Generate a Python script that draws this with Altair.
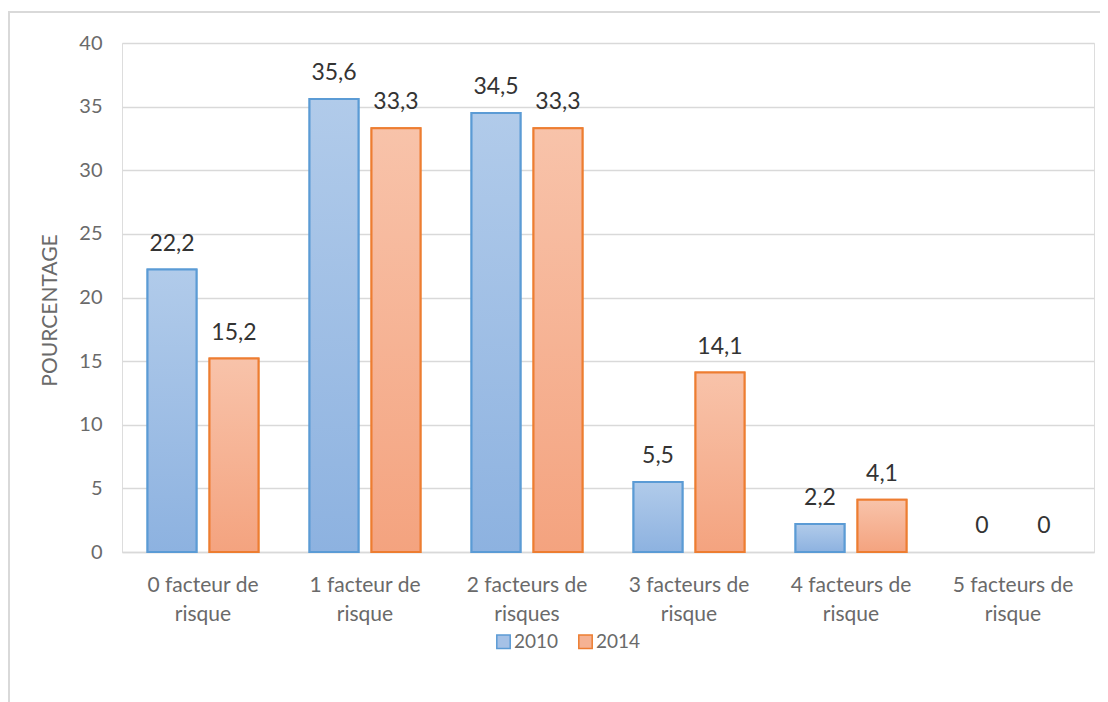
import altair as alt
import pandas as pd

categories = [
    "0 facteur de\nrisque",
    "1 facteur de\nrisque",
    "2 facteurs de\nrisques",
    "3 facteurs de\nrisque",
    "4 facteurs de\nrisque",
    "5 facteurs de\nrisque",
]
years = ["2010", "2014"]
values_2010 = [22.2, 35.6, 34.5, 5.5, 2.2, 0]
values_2014 = [15.2, 33.3, 33.3, 14.1, 4.1, 0]
y_ticks = [0, 5, 10, 15, 20, 25, 30, 35, 40]


def fmt(v):
    return "0" if v == 0 else str(v).replace(".", ",")


rows = []
for c, a, b in zip(categories, values_2010, values_2014):
    rows.append({"cat": c, "year": "2010", "value": a, "label": fmt(a)})
    rows.append({"cat": c, "year": "2014", "value": b, "label": fmt(b)})
df = pd.DataFrame(rows)

FONT = "Lato"
stroke_colors = ["#5b9bd5", "#ed7d31"]
fill_colors = ["#a5c1e6", "#f5b293"]

x_enc = alt.X(
    "cat:N",
    sort=categories,
    scale=alt.Scale(paddingInner=0.315, paddingOuter=0.1575),
    axis=alt.Axis(
        title=None,
        labelExpr="split(datum.label, '\\n')",
        labelAngle=0,
        labelFont=FONT,
        labelFontSize=21,
        labelColor="#6a6a6a",
        labelLineHeight=29,
        labelPadding=22,
        ticks=False,
        domain=True,
        domainColor="#d9d9d9",
        domainWidth=1.5,
        grid=False,
    ),
)
xoff = alt.XOffset("year:N", sort=years, scale=alt.Scale(paddingInner=0.21))
y_enc = alt.Y(
    "value:Q",
    scale=alt.Scale(domain=[0, 40], nice=False),
    axis=alt.Axis(
        title="POURCENTAGE",
        titleFont=FONT,
        titleFontSize=21,
        titleFontWeight="normal",
        titleColor="#6a6a6a",
        titlePadding=18,
        titleY=267,
        values=y_ticks,
        labelFont=FONT,
        labelFontSize=20,
        labelColor="#6a6a6a",
        labelPadding=20,
        ticks=False,
        domain=False,
        grid=True,
        gridColor="#d9d9d9",
        gridWidth=1.5,
    ),
)

base = alt.Chart(df)
bars_nonzero = base.transform_filter("datum.value > 0")

legend_layer = bars_nonzero.mark_bar(strokeWidth=2).encode(
    x=x_enc,
    xOffset=xoff,
    y=y_enc,
    fill=alt.Fill(
        "year:N",
        sort=years,
        scale=alt.Scale(domain=years, range=fill_colors),
        legend=alt.Legend(
            title=None,
            orient="none",
            direction="horizontal",
            legendX=372,
            legendY=589,
            symbolType="square",
            symbolSize=180,
            symbolStrokeWidth=1.5,
            labelFont=FONT,
            labelFontSize=19,
            labelColor="#6a6a6a",
            labelOffset=1,
            columnPadding=16,
        ),
    ),
    stroke=alt.Stroke(
        "year:N",
        sort=years,
        scale=alt.Scale(domain=years, range=stroke_colors),
    ),
)


def grad(top, bottom):
    return alt.Gradient(
        gradient="linear",
        stops=[alt.GradientStop(color=top, offset=0), alt.GradientStop(color=bottom, offset=1)],
        x1=0, x2=0, y1=0, y2=1,
    )


blue_layer = bars_nonzero.transform_filter("datum.year == '2010'").mark_bar(
    fill=grad("#b1cbea", "#8db2e0"), stroke="#5b9bd5", strokeWidth=2
).encode(x=x_enc, xOffset=xoff, y=y_enc)

orange_layer = bars_nonzero.transform_filter("datum.year == '2014'").mark_bar(
    fill=grad("#f8c3aa", "#f4a37f"), stroke="#ed7d31", strokeWidth=2
).encode(x=x_enc, xOffset=xoff, y=y_enc)

text_layer = base.mark_text(
    font=FONT, fontSize=23, color="#333333", baseline="alphabetic", dy=-19
).encode(x=x_enc, xOffset=xoff, y=y_enc, text="label:N")

frame = alt.Chart(pd.DataFrame({"f": [0]})).mark_rect(
    fill=None, stroke="#d9d9d9", strokeWidth=2
).encode(
    x=alt.value(-113), x2=alt.value(995), y=alt.value(-31), y2=alt.value(670)
)

chart = (
    alt.layer(frame, legend_layer, blue_layer, orange_layer, text_layer)
    .properties(
        width=972,
        height=509,
        autosize=alt.AutoSizeParams(type="none"),
        padding={"left": 114, "top": 35, "right": 6, "bottom": 150},
    )
    .configure_view(stroke=None)
    .configure(background="white")
)

chart.save("out.html", embed_options={"renderer": "svg", "actions": False})
